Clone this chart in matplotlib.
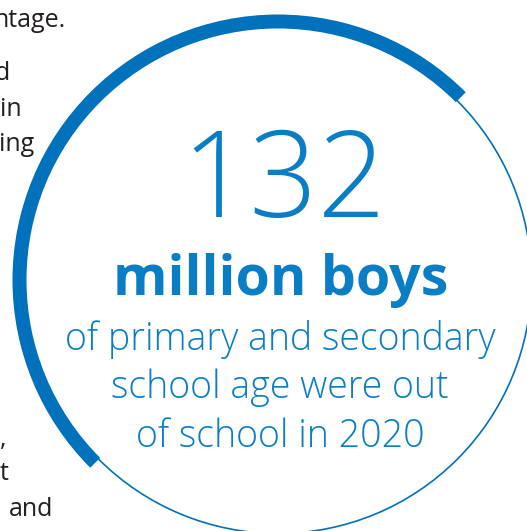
import matplotlib.pyplot as plt
from matplotlib.patches import Circle, Wedge

# values shown in the graphic
boys_out_of_school = 132          # millions
highlight_share = 0.5             # part of the ring drawn thick
headline = "million boys"
caption_lines = ["of primary and secondary", "school age were out", "of school in 2020"]

# fragments of the body text that sit to the left of the ring (cut by the page edge)
side_text = ["ntage.", "d", "in", "ing", ",", "t", "and"]
side_baselines = [27, 80, 116, 151, 446, 480, 516]
side_right = [66, 10, 22, 34, 6, 8, 53]

blue_ring = "#0071bb"
blue_text = "#0a7ec4"
ink = "#231f20"

fig = plt.figure(figsize=(5.27, 5.31), dpi=100)
ax = fig.add_axes([0, 0, 1, 1])
ax.set_xlim(0, 527)
ax.set_ylim(531, 0)
ax.axis("off")

cx, cy = 278, 280

# thin full ring
ax.add_patch(Circle((cx, cy), 253.5, fill=False, lw=1.2, ec=blue_ring))

# thick highlighted part (y axis is flipped, so 135 -> 315 runs over the top)
start = 135
ax.add_patch(Wedge((cx, cy), 265.5, start, start + 360 * highlight_share,
                   width=14, fc=blue_ring, ec="none"))

# big number
ax.text(284, 217, str(boys_out_of_school), ha="center", va="baseline",
        fontsize=86, family="Open Sans", weight="light", color=blue_text)
ax.text(281, 295, headline, ha="center", va="baseline",
        fontsize=40, family="Open Sans", weight="bold", color=blue_text)

for line, base in zip(caption_lines, [350, 398, 447]):
    ax.text(280, base, line, ha="center", va="baseline",
            fontsize=27, family="Open Sans", weight="light", color=blue_text)

for txt, base, xr in zip(side_text, side_baselines, side_right):
    ax.text(xr, base, txt, ha="right", va="baseline",
            fontsize=18, family="Open Sans", color=ink)

fig.savefig("out.png", dpi=100)
